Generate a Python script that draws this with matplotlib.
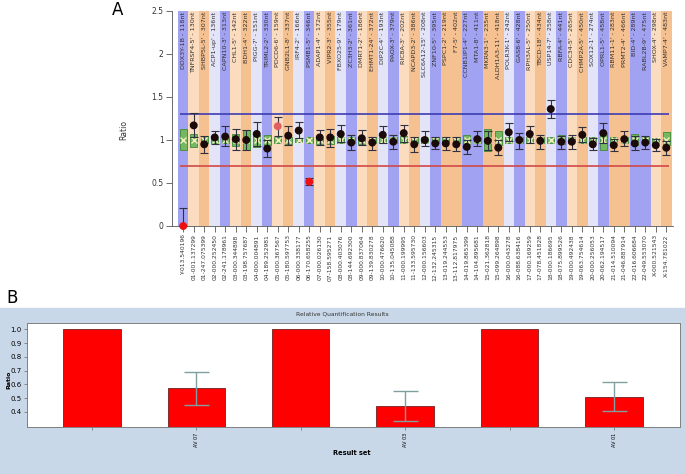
import matplotlib
matplotlib.use('Agg')
import matplotlib.pyplot as plt
from matplotlib.patches import Rectangle

# ---- panel A data ----
probes = ["DDX3Y-1B - 118nt", "TNFRSF4-5' - 130nt", "SHBP5L-5' - 307nt", "ACP1-up' - 136nt",
          "CAPN10-3' - 313nt", "CHL1-5' - 142nt", "BDH1-4' - 322nt", "PIGG-7' - 151nt",
          "TRIML2-2' - 330nt", "PDCD6-6' - 159nt", "GNB2L1-8' - 337nt", "IRF4-2' - 166nt",
          "PSMB1-5' - 346nt", "ADAP1-4' - 172nt", "VIPR2-3' - 355nt", "FBXO25-9' - 179nt",
          "ZC3H3-2' - 361nt", "DMRT1-2' - 186nt", "EHMT1-24' - 372nt", "DIP2C-4' - 193nt",
          "PAOX-3' - 379nt", "RIC8A-3' - 202nt", "NCAPD3-2' - 386nt", "SLC6A12-15' - 208nt",
          "ZNF10-5' - 395nt", "PSPC1-2' - 219nt", "F7-5' - 402nt", "CCNB1IP1-4' - 227nt",
          "MTA1-8' - 411nt", "MKRN3-1' - 235nt", "ALDH1A3-11' - 418nt", "POLR3K-1' - 242nt",
          "GAS8-6' - 428nt", "RPH3AL-5' - 250nt", "TBCD-18' - 434nt", "USP14-7' - 258nt",
          "RBFA-4' - 441nt", "CDC34-5' - 265nt", "CHMP2A-5' - 450nt", "SOX12-1' - 274nt",
          "OPRL1-5' - 458nt", "RBM11-1' - 283nt", "PRMT2-4' - 466nt", "BID-4' - 289nt",
          "RABL2B-9' - 475nt", "SHOX-4' - 298nt", "VAMP7-4' - 483nt"]
positions = ["Y-013.540196", "01-001.137299", "01-247.075399", "02-000.252450", "02-241.178961",
             "03-000.344898", "03-198.757687", "04-000.004891", "04-189.252981", "05-000.367567",
             "05-180.597753", "06-000.338177", "06-170.658255", "07-000.026130", "07-158.595271",
             "08-000.403076", "08-144.692300", "09-000.837064", "09-139.830278", "10-000.476620",
             "10-135.045088", "11-000.199995", "11-133.595730", "12-000.156603", "12-132.245315",
             "13-019.244553", "13-112.817975", "14-019.865399", "14-104.895681", "15-021.362818",
             "15-099.264898", "16-000.043278", "16-088.638416", "17-000.169259", "17-078.451828",
             "18-000.186695", "18-075.899526", "19-000.492438", "19-063.754614", "20-000.256053",
             "20-062.194517", "21-014.510094", "21-046.887914", "22-016.606684", "22-049.553070",
             "X-000.521543", "X-154.781022"]
col_type = ['b', 'lo', 'o', 'l', 'b', 'lo', 'o', 'l', 'b', 'lo', 'o', 'l', 'b', 'lo', 'o', 'l',
            'b', 'lo', 'o', 'l', 'b', 'lo', 'o', 'l', 'b', 'o', 'o', 'b', 'b', 'o', 'o', 'l',
            'b', 'lo', 'o', 'l', 'b', 'lo', 'o', 'l', 'b', 'o', 'o', 'b', 'b', 'lo', 'o']
ratio = [0.0, 1.17, 0.95, 1.03, 1.04, 1.01, 1.0, 1.07, 0.9, 1.16, 1.05, 1.11, 0.515, 1.03,
         1.03, 1.07, 0.97, 1.02, 0.97, 1.06, 0.98, 1.08, 0.95, 1.0, 0.96, 0.96, 0.95, 0.92,
         1.01, 0.99, 0.91, 1.09, 1.0, 1.07, 0.99, 1.36, 0.98, 0.98, 1.06, 0.95, 1.08, 0.94,
         1.01, 0.96, 0.97, 0.94, 0.91]
ratio_hi = [0.21, 1.31, 1.05, 1.11, 1.16, 1.13, 1.12, 1.21, 1.0, 1.27, 1.16, 1.21, 0.56, 1.12,
            1.13, 1.17, 1.06, 1.12, 1.03, 1.16, 1.06, 1.18, 1.04, 1.1, 1.04, 1.04, 1.03, 1.0,
            1.1, 1.1, 1.0, 1.2, 1.08, 1.16, 1.06, 1.47, 1.05, 1.06, 1.15, 1.02, 1.2, 1.01,
            1.1, 1.05, 1.05, 1.01, 0.99]
ratio_lo = [0.0, 1.03, 0.85, 0.95, 0.93, 0.88, 0.88, 0.93, 0.8, 1.05, 0.94, 1.02, 0.48, 0.94,
            0.92, 0.98, 0.88, 0.94, 0.88, 0.97, 0.89, 0.98, 0.86, 0.93, 0.89, 0.88, 0.87, 0.84,
            0.93, 0.88, 0.82, 0.99, 0.9, 0.97, 0.9, 1.25, 0.9, 0.9, 0.98, 0.88, 0.96, 0.87,
            0.93, 0.88, 0.9, 0.87, 0.83]
ref_lo = [0.88, 0.92, 0.96, 0.97, 0.97, 0.93, 0.88, 0.92, 0.94, 0.97, 0.95, 0.98, 0.97, 0.95,
          0.95, 0.97, 0.96, 0.95, 0.96, 0.96, 0.96, 0.96, 0.96, 0.97, 0.96, 0.97, 0.97, 0.95,
          0.96, 0.87, 0.94, 0.97, 0.97, 0.97, 0.97, 0.97, 0.95, 0.97, 0.97, 0.97, 0.88, 0.96,
          0.96, 0.94, 0.96, 0.97, 0.94]
ref_hi = [1.13, 1.07, 1.05, 1.03, 1.03, 1.07, 1.12, 1.06, 1.06, 1.03, 1.04, 1.02, 1.03, 1.04,
          1.05, 1.03, 1.04, 1.04, 1.04, 1.04, 1.04, 1.05, 1.03, 1.03, 1.04, 1.04, 1.03, 1.06,
          1.04, 1.13, 1.1, 1.03, 1.03, 1.03, 1.03, 1.03, 1.06, 1.03, 1.03, 1.03, 1.08, 1.03,
          1.03, 1.07, 1.03, 1.02, 1.09]
upper_limit = 1.3
lower_limit = 0.7

# ---- panel B data ----
result_sets = ["", "AV 07", "", "AV 03", "", "AV 01"]
rq_ratio = [1.0, 0.57, 1.0, 0.44, 1.0, 0.51]
rq_err = [0.0, 0.12, 0.0, 0.11, 0.0, 0.105]

palette = {'b': '#a2a2f2', 'lo': '#fcdcbf', 'o': '#f6c190', 'l': '#e4e4f8'}

fig = plt.figure(figsize=(6.85, 4.74), dpi=100)

# ---------------- panel A ----------------
ax = fig.add_axes([172 / 685, 1 - 226 / 474, 501 / 685, 215 / 474])
x = list(range(len(probes)))
ax.bar(x, 2.5, width=1, color=[palette[c] for c in col_type], zorder=0)
ax.hlines(upper_limit, -0.3, 46.3, color='#3c3cb4', lw=1.2, zorder=1)
ax.hlines(lower_limit, -0.3, 46.3, color='#d04848', lw=1.2, zorder=1)

ax.bar(x, [h - l for h, l in zip(ref_hi, ref_lo)], bottom=ref_lo, width=0.7,
       color='#74b860', edgecolor='#3f8a3a', lw=0.6, zorder=2)
ax.plot(x, [1.0] * len(x), 'x', color='#f4f0c0', ms=4, mew=1, zorder=3)

err = [[r - l for r, l in zip(ratio, ratio_lo)], [h - r for h, r in zip(ratio_hi, ratio)]]
ax.errorbar(x, ratio, yerr=err, fmt='none', ecolor='#303040', elinewidth=0.8,
            capsize=3, capthick=0.8, zorder=4)
dot_colors = []
for i, r in enumerate(ratio):
    if r < lower_limit:
        dot_colors.append('#ee1010')
    elif i == 9:
        dot_colors.append('#e06060')
    else:
        dot_colors.append('#1a0a0a')
ax.scatter(x, ratio, s=22, c=dot_colors, zorder=5, clip_on=False)

for i, name in enumerate(probes):
    ax.text(i, 2.49, name, rotation=90, ha='center', va='top', fontsize=4.6, color='#303030')

ax.set_xlim(-1.07, 46.64)
ax.set_ylim(0, 2.5)
ax.set_yticks([0, 0.5, 1, 1.5, 2, 2.5])
ax.set_yticklabels(['0', '0.5', '1', '1.5', '2', '2.5'], fontsize=5.5, color='#333333')
ax.set_xticks(x)
ax.set_xticklabels(positions, rotation=90, fontsize=4.3, color='#333333')
ax.tick_params(axis='both', length=4, width=0.6, color='#555555', pad=2)
for s in ['top', 'right']:
    ax.spines[s].set_visible(False)
for s in ['left', 'bottom']:
    ax.spines[s].set_color('#555555')
    ax.spines[s].set_linewidth(0.6)
fig.text(124 / 685, 1 - 130 / 474, 'Ratio', rotation=90, ha='center', va='center',
         fontsize=5.5, color='#333333')
fig.text(118 / 685, 1 - 10 / 474, 'A', ha='center', va='center', fontsize=12)

# ---------------- panel B ----------------
fig.patches.append(Rectangle((0, 0), 1, 1 - 308 / 474, transform=fig.transFigure,
                             color='#c9d8e8', zorder=-1))
fig.text(12 / 685, 1 - 298 / 474, 'B', ha='center', va='center', fontsize=12)
bx = fig.add_axes([27 / 685, 1 - 427 / 474, 653 / 685, 104 / 474])
xb = list(range(len(rq_ratio)))
bx.bar(xb, rq_ratio, width=0.55, color='#ff0000', edgecolor='#702020', lw=0.6)
for i in xb:
    if rq_err[i] > 0:
        bx.errorbar(i, rq_ratio[i], yerr=rq_err[i], fmt='none', ecolor='#7f9fa0',
                    elinewidth=1.0, capsize=9, capthick=1.0)
bx.set_xlim(-0.62, 5.63)
bx.set_ylim(0.29, 1.046)
bx.set_yticks([0.4, 0.5, 0.6, 0.7, 0.8, 0.9, 1.0])
bx.set_yticklabels(['0.4', '0.5', '0.6', '0.7', '0.8', '0.9', '1.0'], fontsize=5)
bx.set_xticks(xb)
bx.set_xticklabels(result_sets, rotation=90, fontsize=3.5)
bx.tick_params(axis='both', length=2, width=0.5, color='#666666', pad=2)
for s in bx.spines.values():
    s.set_color('#808080')
    s.set_linewidth(0.7)
fig.text(342 / 685, 1 - 314 / 474, 'Relative Quantification Results', ha='center',
         va='center', fontsize=4.3, color='#333333')
fig.text(9 / 685, 1 - 380 / 474, 'Ratio', rotation=90, ha='center', va='center',
         fontsize=4.5, fontweight='bold')
fig.text(352 / 685, 1 - 453 / 474, 'Result set', ha='center', va='center',
         fontsize=4.8, fontweight='bold')

fig.savefig('out.png', dpi=100)
